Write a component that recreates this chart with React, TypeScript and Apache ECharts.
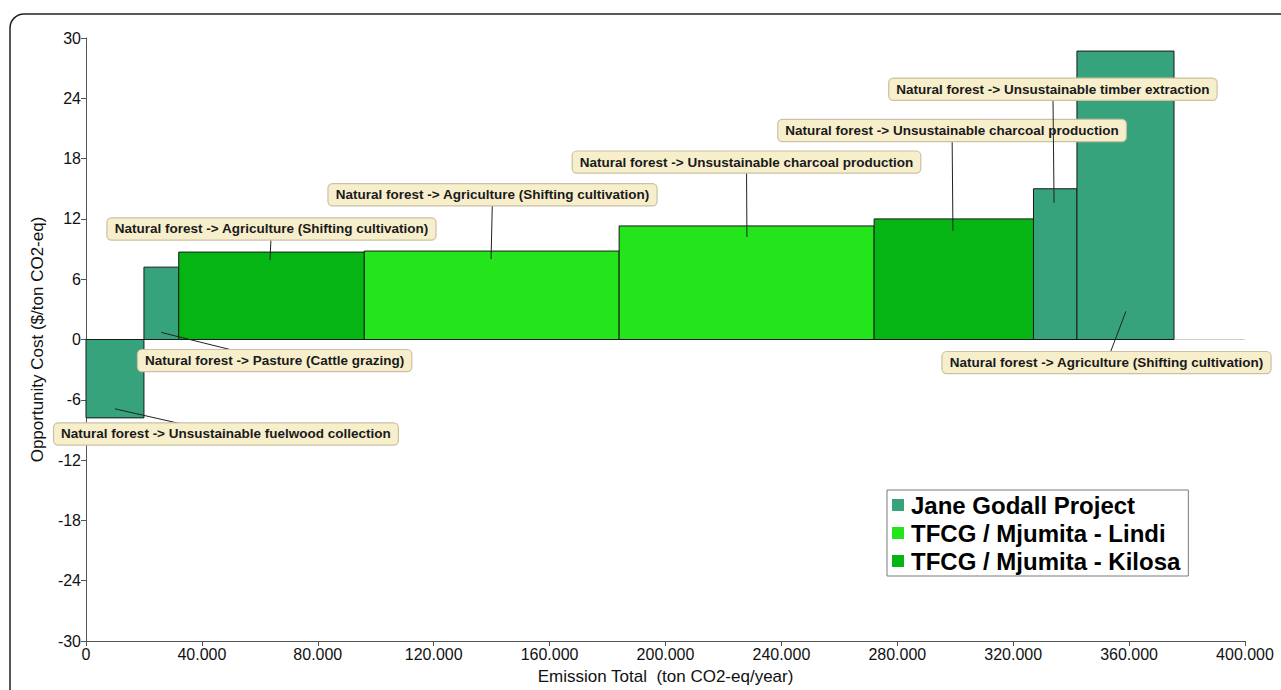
import React, { useEffect, useRef } from "react";
import * as echarts from "echarts";

// ---- data ----
const projects = ["Jane Godall Project", "TFCG / Mjumita - Lindi", "TFCG / Mjumita - Kilosa"];
const projectColors = ["#37a37c", "#24e51b", "#04b514"];

const barStart = [0, 20000, 32000, 96000, 184000, 272000, 327000, 342000];
const barEnd = [20000, 32000, 96000, 184000, 272000, 327000, 342000, 375500];
const barCost = [-7.8, 7.2, 8.7, 8.8, 11.3, 12.0, 15.0, 28.7];
const barProject = [0, 0, 2, 1, 1, 2, 0, 0];

const labelTexts = [
  "Natural forest -> Unsustainable fuelwood collection",
  "Natural forest -> Pasture (Cattle grazing)",
  "Natural forest -> Agriculture (Shifting cultivation)",
  "Natural forest -> Agriculture (Shifting cultivation)",
  "Natural forest -> Unsustainable charcoal production",
  "Natural forest -> Unsustainable charcoal production",
  "Natural forest -> Unsustainable timber extraction",
  "Natural forest -> Agriculture (Shifting cultivation)",
];
// annotation anchor (on the bar) and callout box centre, in data units
const anchorX = [10000, 26000, 63500, 139800, 228100, 299200, 334100, 358900];
const anchorY = [-6.9, 0.7, 7.9, 8.0, 10.2, 10.8, 13.6, 2.8];
const boxX = [48300, 65100, 64000, 140300, 227950, 298900, 333700, 352200];
const boxY = [-9.4, -2.1, 11.0, 14.4, 17.65, 20.8, 24.9, -2.3];

const xMin = 0, xMax = 400000, xStep = 40000;
const yMin = -30, yMax = 30, yStep = 6;

const fmtThousands = (v: number) => String(v).replace(/\B(?=(\d{3})+(?!\d))/g, ".");

export default function App() {
  const ref = useRef<HTMLDivElement>(null);
  useEffect(() => {
    if (!ref.current) return;
    const chart = echarts.init(ref.current, null, { renderer: "svg" });

    const barSeries = projects.map((name, pi) => ({
      type: "custom",
      name,
      color: projectColors[pi],
      itemStyle: { color: projectColors[pi] },
      encode: { x: [0, 1], y: 2 },
      data: barStart
        .map((s, i) => [s, barEnd[i], barCost[i], barProject[i]])
        .filter((d) => d[3] === pi),
      renderItem: (params: any, api: any) => {
        const p0 = api.coord([api.value(0), api.value(2)]);
        const p1 = api.coord([api.value(1), 0]);
        return {
          type: "rect",
          shape: {
            x: p0[0],
            y: Math.min(p0[1], p1[1]),
            width: p1[0] - p0[0],
            height: Math.abs(p1[1] - p0[1]),
          },
          style: { fill: projectColors[pi], stroke: "#1a1a1a", lineWidth: 1 },
        };
      },
      z: 2,
    }));

    const annotationSeries = {
      type: "custom",
      name: "annotations",
      clip: false,
      z: 5,
      encode: { x: [0, 2], y: [1, 3] },
      data: labelTexts.map((t, i) => [anchorX[i], anchorY[i], boxX[i], boxY[i], i]),
      renderItem: (params: any, api: any) => {
        const a = api.coord([api.value(0), api.value(1)]);
        const b = api.coord([api.value(2), api.value(3)]);
        const idx = api.value(4);
        return {
          type: "group",
          children: [
            {
              type: "line",
              shape: { x1: a[0], y1: a[1], x2: b[0], y2: b[1] },
              style: { stroke: "#222", lineWidth: 1 },
            },
            {
              type: "text",
              x: b[0],
              y: b[1],
              style: {
                text: labelTexts[idx],
                align: "center",
                verticalAlign: "middle",
                font: "bold 13.5px 'Liberation Sans', Arial, sans-serif",
                fill: "#1a1a1a",
                backgroundColor: "#f7efcc",
                borderColor: "#c9c1a2",
                borderWidth: 1.2,
                borderRadius: 4,
                padding: [4, 7, 3, 7],
              },
            },
          ],
        };
      },
    };

    const zeroLine = {
      type: "line",
      name: "zero",
      data: [[xMin, 0], [xMax, 0]],
      symbol: "none",
      lineStyle: { color: "#cfcfcf", width: 1 },
      z: 1,
      silent: true,
    };

    chart.setOption({
      animation: false,
      backgroundColor: "#ffffff",
      textStyle: { fontFamily: "'Liberation Sans', Arial, sans-serif" },
      grid: { left: 86, right: 36, top: 38, bottom: 47 },
      graphic: [
        {
          type: "rect",
          shape: { x: 10, y: 14, width: 1320, height: 720, r: 14 },
          style: { fill: "none", stroke: "#222", lineWidth: 1.5 },
          z: 0,
          silent: true,
        },
      ],
      legend: {
        data: projects.map((p) => ({ name: p, icon: "rect" })),
        orient: "vertical",
        left: 887,
        top: 490,
        itemWidth: 12,
        itemHeight: 12,
        itemGap: 2,
        backgroundColor: "#ffffff",
        borderColor: "#7a7a7a",
        borderWidth: 1,
        padding: [2, 8, 2, 5],
        textStyle: {
          fontSize: 24,
          fontWeight: "bold",
          color: "#000",
          lineHeight: 26,
          fontFamily: "'Liberation Sans', Arial, sans-serif",
          padding: [0, 0, 0, 2],
        },
        selectedMode: false,
      },
      xAxis: {
        type: "value",
        min: xMin,
        max: xMax,
        interval: xStep,
        name: "Emission Total  (ton CO2-eq/year)",
        nameLocation: "middle",
        nameGap: 27,
        nameTextStyle: { fontSize: 17, color: "#111" },
        axisLine: { onZero: false, lineStyle: { color: "#555" } },
        axisTick: { show: true, length: 5, lineStyle: { color: "#555" } },
        axisLabel: { fontSize: 16, color: "#111", margin: 5, formatter: (v: number) => fmtThousands(v) },
        splitLine: { show: false },
      },
      yAxis: {
        type: "value",
        min: yMin,
        max: yMax,
        interval: yStep,
        name: "Opportunity Cost ($/ton CO2-eq)",
        nameLocation: "middle",
        nameRotate: 90,
        nameGap: 40,
        nameTextStyle: { fontSize: 17, color: "#111" },
        axisLine: { show: true, lineStyle: { color: "#555" } },
        axisTick: { show: true, length: 5, lineStyle: { color: "#555" } },
        axisLabel: { fontSize: 16, color: "#111", margin: 5 },
        splitLine: { show: false },
      },
      series: [zeroLine, ...barSeries, annotationSeries],
    });
    return () => chart.dispose();
  }, []);
  return (
    <div
      ref={ref}
      style={{ position: "fixed", left: 0, top: 0, width: 1281, height: 690, background: "#fff" }}
    />
  );
}
